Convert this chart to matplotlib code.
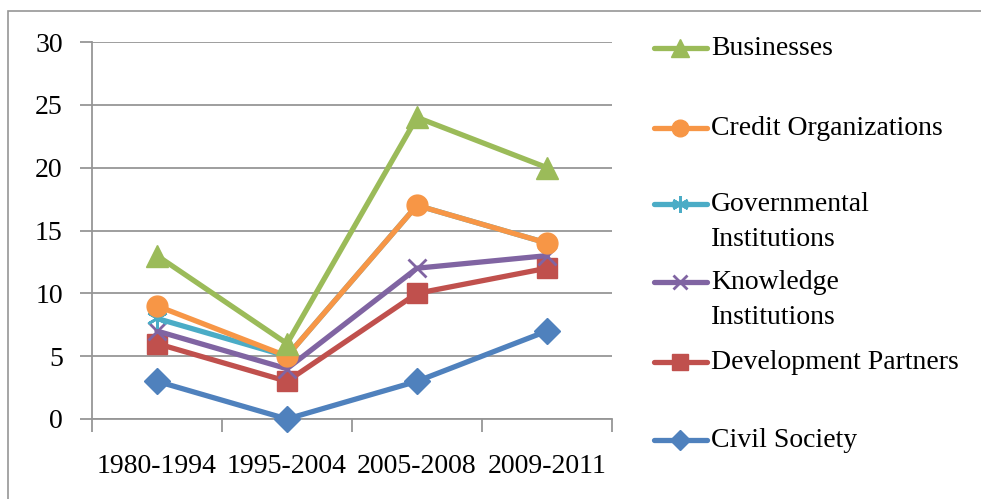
import matplotlib
matplotlib.use("Agg")
import matplotlib.pyplot as plt
from matplotlib.lines import Line2D
from matplotlib.patches import Rectangle

periods = ["1980-1994", "1995-2004", "2005-2008", "2009-2011"]

civil_society = [3, 0, 3, 7]
development_partners = [6, 3, 10, 12]
knowledge_institutions = [7, 4, 12, 13]
governmental_institutions = [8, 5, 17, 14]
credit_organizations = [9, 5, 17, 14]
businesses = [13, 6, 24, 20]

# drawing order: first drawn ends up underneath
series = [
    ("Civil Society", civil_society, "#4F81BD", "D", 13),
    ("Development Partners", development_partners, "#C0504D", "s", 14),
    ("Knowledge Institutions", knowledge_institutions, "#8064A2", "x", 13),
    ("Governmental Institutions", governmental_institutions, "#4BACC6", (6, 2, 0), 15),
    ("Credit Organizations", credit_organizations, "#F79646", "o", 15),
    ("Businesses", businesses, "#9BBB59", "^", 16),
]

legend_labels = {
    "Businesses": "Businesses",
    "Credit Organizations": "Credit Organizations",
    "Governmental Institutions": "Governmental\nInstitutions",
    "Knowledge Institutions": "Knowledge\nInstitutions",
    "Development Partners": "Development Partners",
    "Civil Society": "Civil Society",
}

plt.rcParams["font.family"] = ["Liberation Serif", "DejaVu Serif"]
grid_c = "#969696"
fs = 20

W, H = 981, 499
fig = plt.figure(figsize=(W / 100, H / 100), dpi=100)

# chart frame
fig.patches.append(Rectangle((8 / W, -0.1), 1.2, 1 - 11 / H + 0.1, transform=fig.transFigure,
                             fill=False, edgecolor=grid_c, linewidth=1.2))

ax = fig.add_axes([92 / W, 1 - 419 / H, 520 / W, 377 / H])
x = list(range(len(periods)))

for name, vals, color, marker, ms in series:
    mew = 2 if marker in ("x", (6, 2, 0)) else 1
    ax.plot(x, vals, color=color, linewidth=3.8, marker=marker, markersize=ms,
            markeredgewidth=mew, markeredgecolor=color, markerfacecolor=color,
            solid_capstyle="round", clip_on=False, zorder=3)

ax.set_xlim(-0.5, 3.5)
ax.set_ylim(0, 30)
ax.set_yticks(range(0, 31, 5))
ax.yaxis.grid(True, color=grid_c, linewidth=1.3)
ax.set_axisbelow(True)

ax.set_xticks([-0.5, 0.5, 1.5, 2.5, 3.5])
ax.set_xticklabels([])
ax.set_xticks(x, minor=True)
ax.set_xticklabels(periods, minor=True)
ax.tick_params(axis="x", which="major", length=9, color=grid_c, width=1.3, direction="out")
ax.tick_params(axis="x", which="minor", length=0, pad=25, labelsize=fs)
ax.tick_params(axis="y", length=9, color=grid_c, width=1.3, pad=12, labelsize=fs)

for s in ("top", "right"):
    ax.spines[s].set_visible(False)
for s in ("left", "bottom"):
    ax.spines[s].set_color(grid_c)
    ax.spines[s].set_linewidth(1.3)

# legend drawn entry by entry so the spacing follows the chart's layout
legend_rows = [("Businesses", 48), ("Credit Organizations", 128),
               ("Governmental Institutions", 204), ("Knowledge Institutions", 282),
               ("Development Partners", 362), ("Civil Society", 440)]
style = {name: (color, marker, ms) for name, vals, color, marker, ms in series}
for name, ypix in legend_rows:
    color, marker, ms = style[name]
    yf = 1 - ypix / H
    mew = 2 if marker in ("x", (6, 2, 0)) else 1
    fig.add_artist(Line2D([654 / W, 707 / W], [yf, yf], transform=fig.transFigure,
                          color=color, linewidth=3.8, solid_capstyle="round"))
    fig.add_artist(Line2D([680 / W], [yf], transform=fig.transFigure, color=color,
                          marker=marker, markersize=ms * 0.8, markeredgewidth=mew,
                          markeredgecolor=color, markerfacecolor=color))
    fig.text(711 / W, yf + 12 / H, legend_labels[name], fontsize=fs, va="top", ha="left",
             linespacing=1.52)

fig.savefig("out.png", dpi=100)
